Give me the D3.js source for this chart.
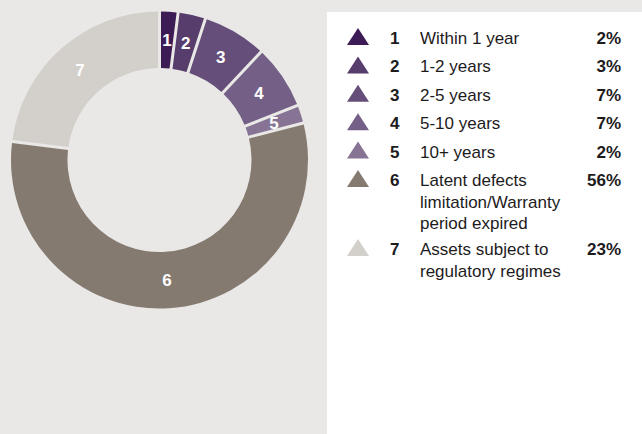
<!DOCTYPE html>
<html><head><meta charset="utf-8">
<script src="https://cdn.jsdelivr.net/npm/d3@7"></script>
<style>body{margin:0;background:#e9e8e6;} svg{display:block}</style>
</head><body><svg id="c" width="642" height="434"></svg>
<script>
const ids = ["1","2","3","4","5","6","7"];
const labels = [["Within 1 year"],["1-2 years"],["2-5 years"],["5-10 years"],["10+ years"],["Latent defects","limitation/Warranty","period expired"],["Assets subject to","regulatory regimes"]];
const values = [2,3,7,7,2,56,23];
const percentLabels = ["2%","3%","7%","7%","2%","56%","23%"];
const colors = ["#3d1b55","#563d6c","#654e79","#745f86","#877494","#857a70","#d3cfcb"];

const svg = d3.select("#c");
const font = "'Liberation Sans', Arial, Helvetica, sans-serif";
svg.append("rect").attr("width",642).attr("height",434).attr("fill","#e9e8e6");
svg.append("rect").attr("x",327).attr("y",12).attr("width",315).attr("height",422).attr("fill","#ffffff");

const data = ids.map((id,i)=>({id, value: values[i], color: colors[i], label: labels[i], pct: percentLabels[i]}));
const pie = d3.pie().value(d=>d.value).sort(null);
const arc = d3.arc().innerRadius(92).outerRadius(148.5).padAngle(0.03).padRadius(100);
const g = svg.append("g").attr("transform","translate(159.5,160)");
const arcs = pie(data);
g.selectAll("path").data(arcs).join("path").attr("d",arc).attr("fill",d=>d.data.color);
g.selectAll("text").data(arcs).join("text")
  .attr("transform",d=>`translate(${arc.centroid(d)})`)
  .attr("text-anchor","middle").attr("dy","0.36em")
  .attr("fill","#ffffff").attr("font-family",font).attr("font-weight","bold").attr("font-size",17)
  .text(d=>d.data.id);

// legend
const lg = svg.append("g").attr("font-family",font).attr("font-size",17).attr("fill","#1e1b1c");
let y = 44;
data.forEach(d=>{
  const row = lg.append("g").attr("transform",`translate(0,${y})`);
  row.append("polygon").attr("points","347,1 369,1 358,-16").attr("fill",d.color);
  row.append("text").attr("x",390).attr("font-weight","bold").text(d.id);
  d.label.forEach((l,j)=>row.append("text").attr("x",420).attr("y",j*21.5).text(l));
  row.append("text").attr("x",621).attr("text-anchor","end").attr("font-weight","bold").text(d.pct);
  y += d.label.length > 1 ? (d.label.length-1)*21.5 + 26 : 28.4;
});
</script></body></html>
